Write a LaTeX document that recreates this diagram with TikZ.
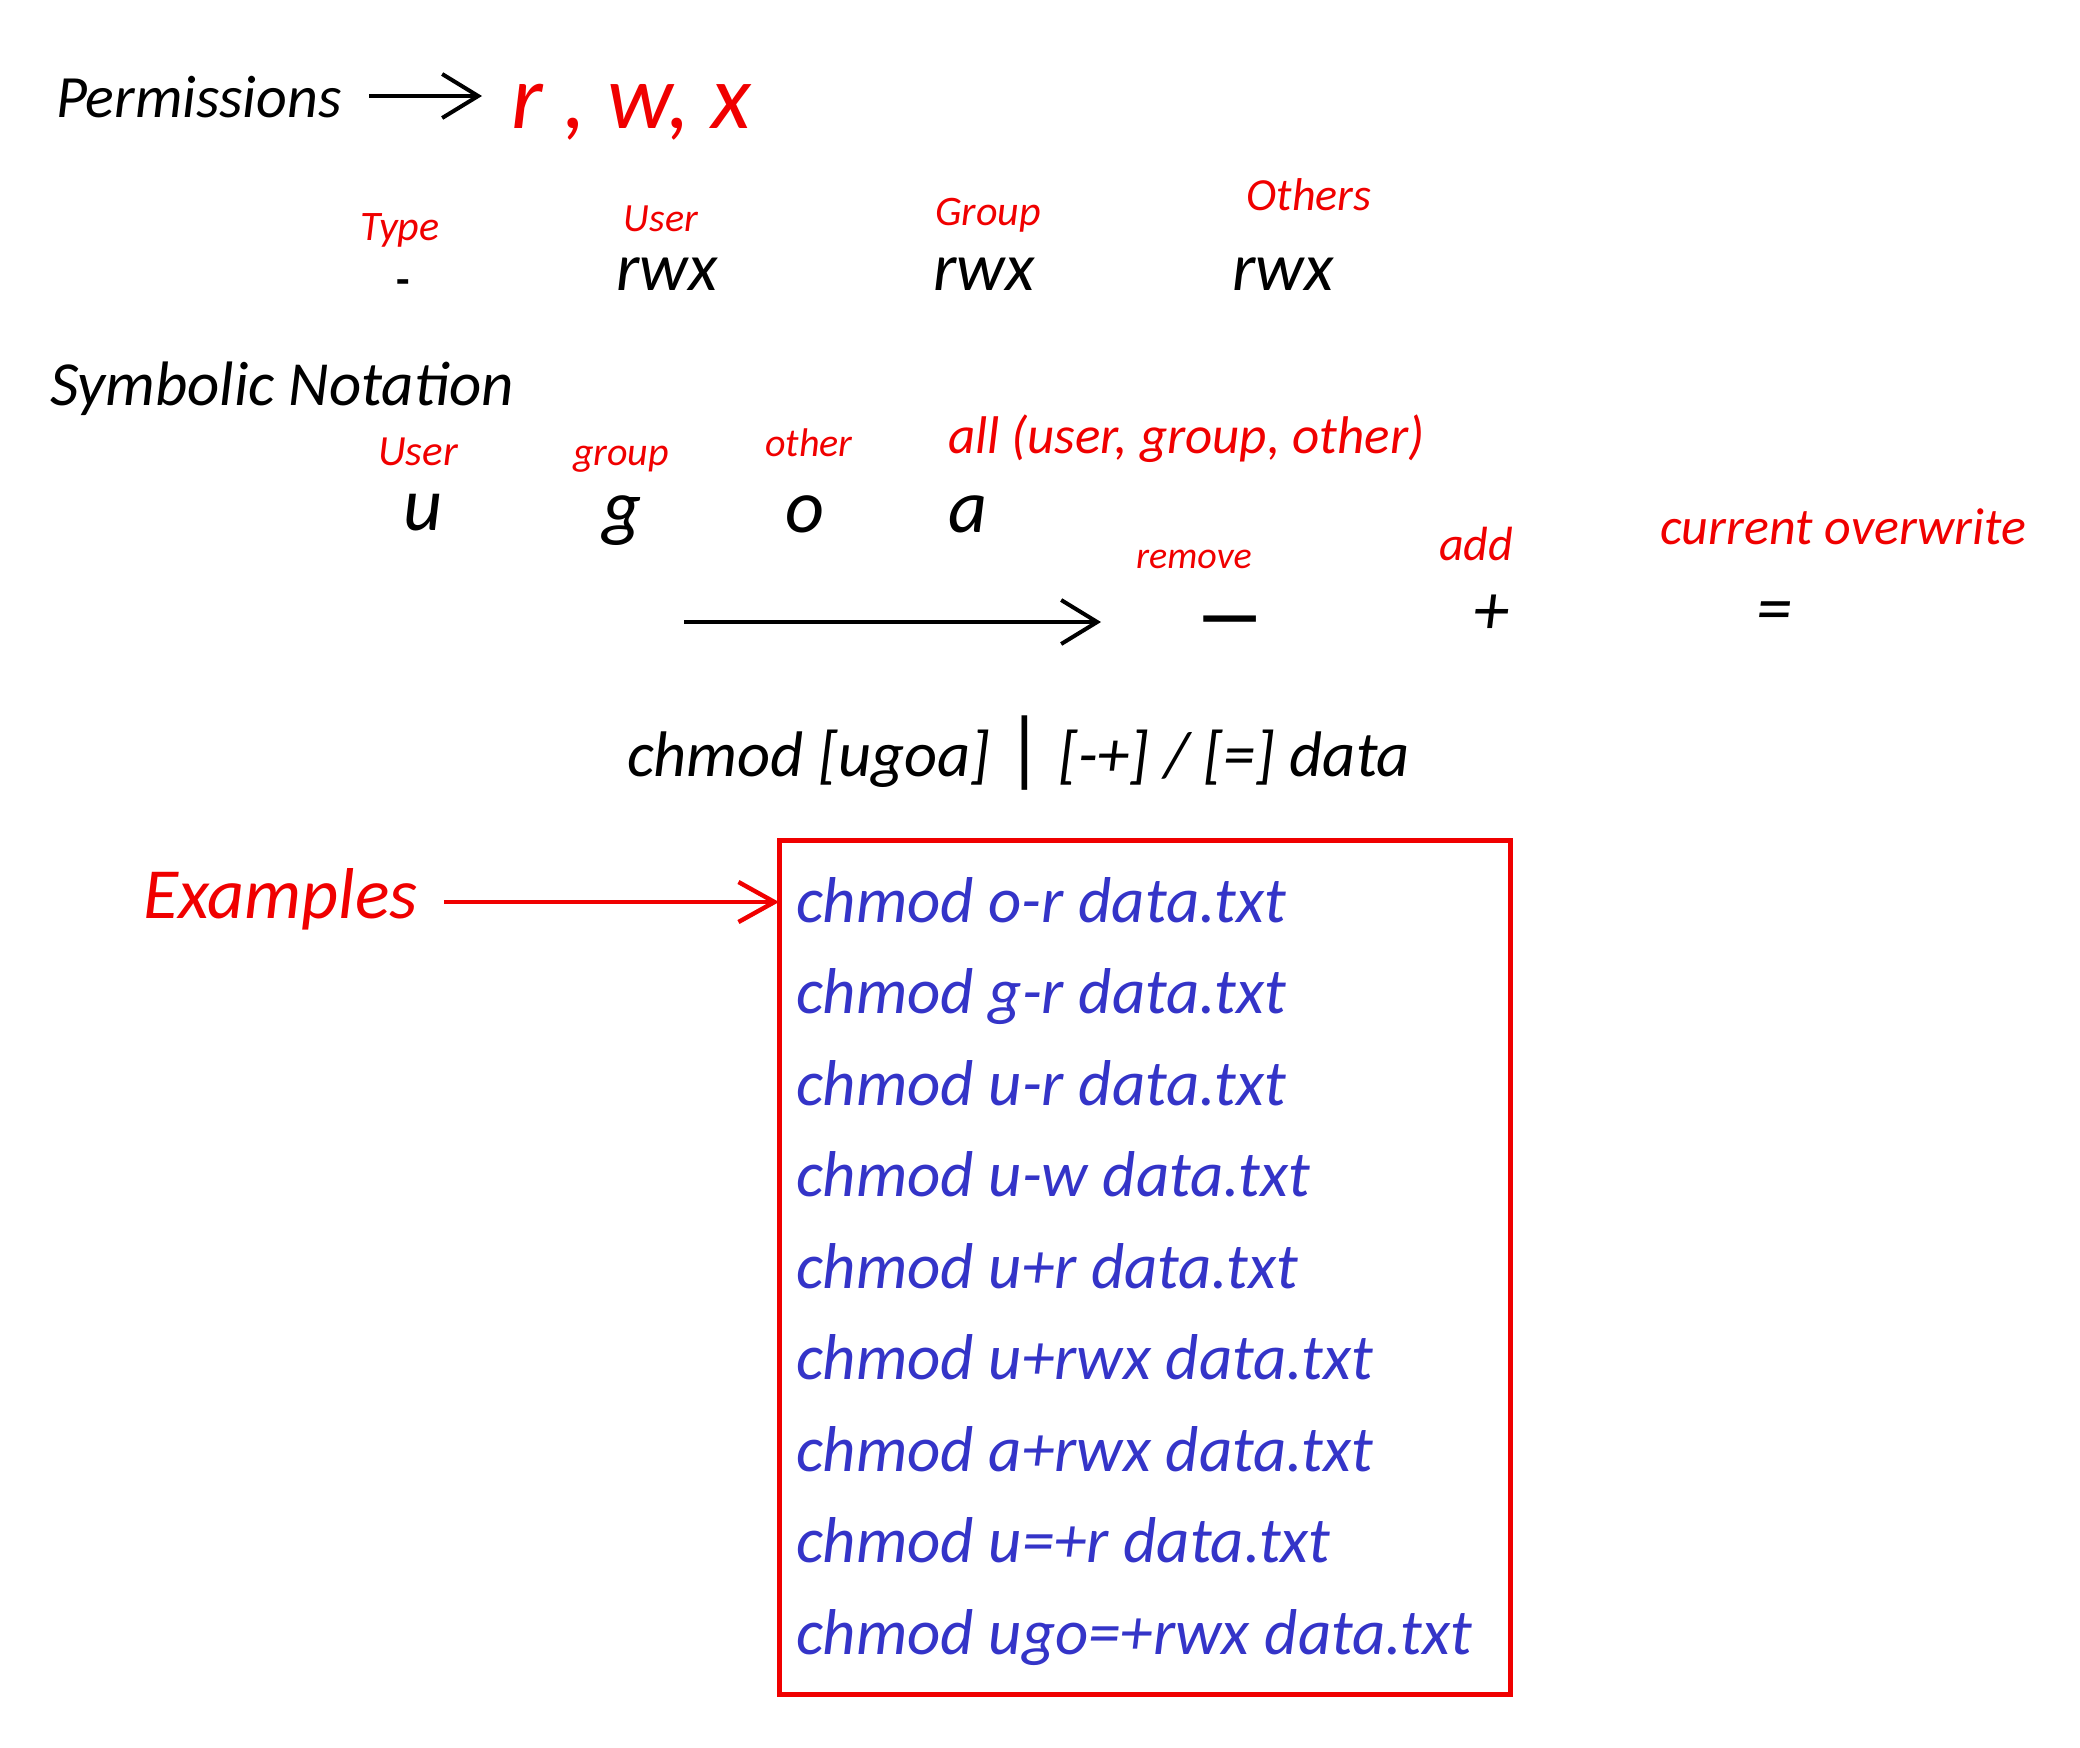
\documentclass[tikz,border=0pt]{standalone}
\usepackage{fontspec}
\setmainfont{Carlito}
\usetikzlibrary{arrows.meta}
\definecolor{hred}{RGB}{240,0,0}
\definecolor{hblue}{RGB}{52,52,200}
\begin{document}
\begin{tikzpicture}[x=0.5pt,y=-0.5pt,
  every node/.style={inner sep=0pt, outer sep=0pt},
  head/.style={text=black, font=\fontsize{30}{36}\selectfont\itshape, anchor=base west},
  lbl/.style={text=hred, font=\fontsize{#1}{#1}\selectfont\itshape, anchor=base},
  sym/.style={text=black, font=\fontsize{#1}{#1}\selectfont\itshape, anchor=base},
  ex/.style={text=hblue, font=\fontsize{32.4}{36}\selectfont\itshape, anchor=base west},
  blkarr/.style={draw=black, line width=2pt, -{Straight Barb[length=18pt,width=22pt,line width=2pt]}},
  redarr/.style={draw=hred, line width=2.2pt, -{Straight Barb[length=18pt,width=20pt,line width=2.2pt]}},
]
\useasboundingbox[fill=white] (0,0) rectangle (2080,1747);

% --- Permissions row
\node[head] (perm) at (56,117) {Permissions};
\node[lbl=46, anchor=base west] (rwxred) at (511,128) {r , w, x};
\coordinate (pa1) at (369,96);
\coordinate (pa2) at (482,96);
\draw[blkarr] (pa1) -- (pa2);

% --- type / user / group / others
\node[lbl=21] (ltype) at (400,240) {Type};
\node[sym=22, font=\fontsize{22}{22}\selectfont\bfseries] (dtype) at (403,294) {-};
\node[lbl=20] (luser) at (661,231) {User};
\node[sym=34] (ruser) at (667,290) {rwx};
\node[lbl=21] (lgroup) at (988,225) {Group};
\node[sym=34] (rgroup) at (984,290) {rwx};
\node[lbl=23] (lothers) at (1309,210) {Others};
\node[sym=34] (rothers) at (1283,290) {rwx};

% --- Symbolic notation
\node[head, font=\fontsize{31.4}{36}\selectfont\itshape] (symb) at (50,405) {Symbolic Notation};
\node[lbl=21.5] (su) at (418,465) {User};
\node[lbl=20] (sg) at (621,465) {group};
\node[lbl=20] (so) at (809,456) {other};
\node[lbl=26.5, anchor=base west] (sa) at (948,453) {all (user, group, other)};
\node[sym=38] (cu) at (423,530) {u};
\node[sym=38] (cg) at (622,532) {g};
\node[sym=38] (co) at (805,532) {o};
\node[sym=38] (ca) at (968,532) {a};

% --- operators
\coordinate (la1) at (684,622);
\coordinate (la2) at (1101,622);
\draw[blkarr] (la1) -- (la2);
\node[lbl=19] (lrem) at (1194,568) {remove};
\node[sym=36, font=\fontsize{36}{36}\selectfont\bfseries] (orem) at (1230,639) {—};
\node[lbl=24] (ladd) at (1476,560) {add};
\node[sym=36] (oadd) at (1491,634) {+};
\node[lbl=26] (lcur) at (1843,544) {current overwrite};
\node[sym=36] (ocur) at (1774,632) {=};

% --- syntax
\node[head, font=\fontsize{32.2}{36}\selectfont\itshape] (syn) at (627,776) {chmod [ugoa] {\fontsize{42}{42}\selectfont\upshape|} [-+] / [=] data};

% --- examples
\node[lbl=36, anchor=base west] (exl) at (143,918) {Examples};
\node[draw=hred, line width=2.5pt, minimum width=365.5pt, minimum height=427pt] (box) at (1144.5,1267) {};
\coordinate (ea1) at (444,902);
\draw[redarr] (ea1) -- (box.west |- ea1);

\node[ex] (e1) at (796,922)  {chmod o-r data.txt};
\node[ex] (e2) at (796,1013) {chmod g-r data.txt};
\node[ex] (e3) at (796,1105) {chmod u-r data.txt};
\node[ex] (e4) at (796,1196) {chmod u-w data.txt};
\node[ex] (e5) at (796,1288) {chmod u+r data.txt};
\node[ex] (e6) at (796,1379) {chmod u+rwx data.txt};
\node[ex] (e7) at (796,1471) {chmod a+rwx data.txt};
\node[ex] (e8) at (796,1562) {chmod u=+r data.txt};
\node[ex] (e9) at (796,1654) {chmod ugo=+rwx data.txt};
\end{tikzpicture}
\end{document}
